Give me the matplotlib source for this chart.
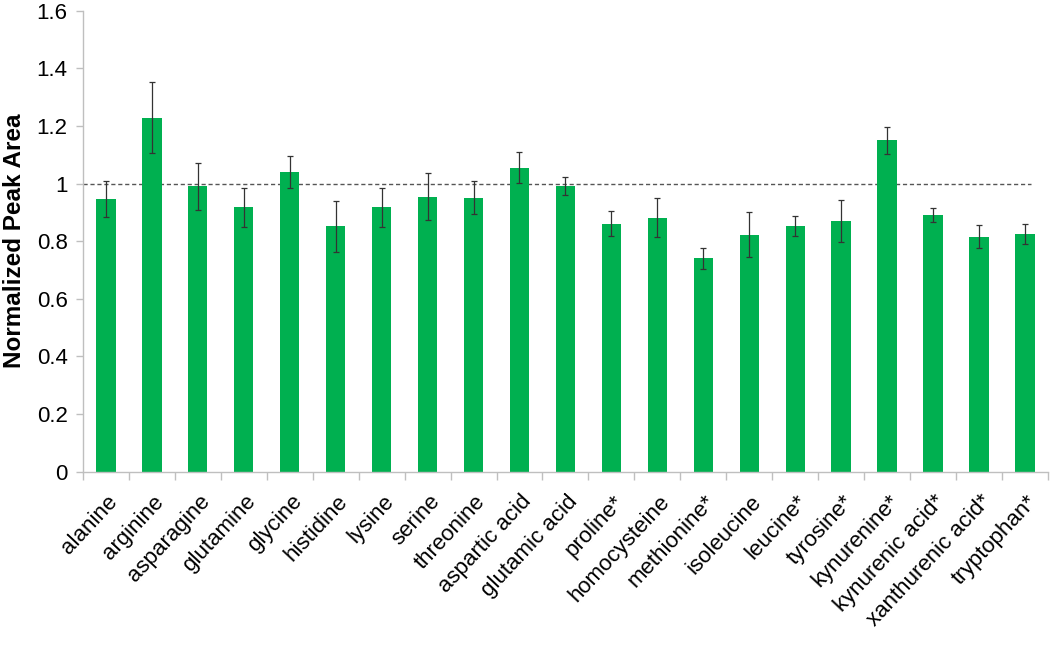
import matplotlib
matplotlib.use("Agg")
import matplotlib.pyplot as plt
import matplotlib.transforms as mtransforms
import numpy as np

categories = ["alanine", "arginine", "asparagine", "glutamine", "glycine", "histidine",
              "lysine", "serine", "threonine", "aspartic acid", "glutamic acid", "proline*",
              "homocysteine", "methionine*", "isoleucine", "leucine*", "tyrosine*",
              "kynurenine*", "kynurenic acid*", "xanthurenic acid*", "tryptophan*"]
values = [0.946, 1.229, 0.990, 0.918, 1.040, 0.852, 0.918, 0.955, 0.951, 1.055, 0.992,
          0.861, 0.881, 0.741, 0.823, 0.853, 0.870, 1.151, 0.890, 0.816, 0.825]
errors = [0.062, 0.122, 0.082, 0.067, 0.054, 0.088, 0.067, 0.080, 0.058, 0.054, 0.031,
          0.044, 0.068, 0.037, 0.078, 0.034, 0.074, 0.047, 0.025, 0.041, 0.036]
yticks = [0, 0.2, 0.4, 0.6, 0.8, 1.0, 1.2, 1.4, 1.6]
ytick_labels = ["0", "0.2", "0.4", "0.6", "0.8", "1", "1.2", "1.4", "1.6"]
reference_level = 1.0

plt.rcParams['font.family'] = ['Liberation Sans', 'DejaVu Sans']

fig = plt.figure(figsize=(10.5, 6.45), dpi=100)
ax = fig.add_axes([0.079, 0.2687, 0.919, 0.7147])

x = np.arange(len(categories))
ax.bar(x, values, width=0.42, color="#00B050", zorder=2)
ax.errorbar(x, values, yerr=errors, fmt="none", ecolor="#333333", elinewidth=0.9,
            capsize=2.5, capthick=0.9, zorder=3)
ax.hlines(reference_level, -0.5, 20.13, colors="#555555", linestyles=(0, (3, 2)),
          linewidth=1.0, zorder=1)

ax.set_xlim(-0.5, len(categories) - 0.5)
ax.set_ylim(0, 1.6)
ax.set_yticks(yticks)
ax.set_yticklabels(ytick_labels, fontsize=16)

ax.set_xticks(x)
ax.set_xticklabels(categories, rotation=47, ha="right", va="top",
                   rotation_mode="anchor", fontsize=16)
ax.tick_params(axis="x", which="major", length=0, pad=14)
offset = mtransforms.ScaledTranslation(1 / 100, 0, fig.dpi_scale_trans)
for lab in ax.get_xticklabels():
    lab.set_transform(lab.get_transform() + offset)
ax.set_xticks(np.arange(len(categories) + 1) - 0.5, minor=True)
ax.tick_params(axis="x", which="minor", length=6, color="#bfbfbf", width=1)
ax.tick_params(axis="y", length=5, color="#bfbfbf", width=1, pad=6)

for s in ["top", "right"]:
    ax.spines[s].set_visible(False)
for s in ["left", "bottom"]:
    ax.spines[s].set_color("#bfbfbf")
    ax.spines[s].set_linewidth(1)

ax.set_ylabel("Normalized Peak Area", fontsize=17.5, fontweight="bold", labelpad=8)

fig.savefig("out.png", dpi=100)
